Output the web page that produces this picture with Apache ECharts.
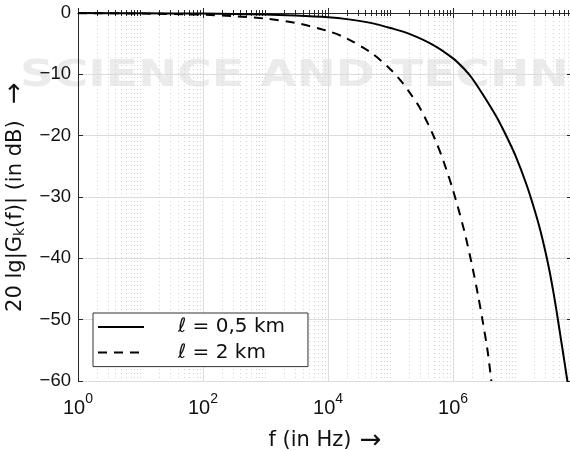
<!DOCTYPE html>
<html><head><meta charset="utf-8">
<script src="https://cdn.jsdelivr.net/npm/echarts@6/dist/echarts.min.js"></script>
<style>html,body{margin:0;padding:0;background:#fff}#c{width:570px;height:451px}</style>
</head><body><div id="c"></div>
<script>
// ---- data ----
const seriesNames = ['ℓ = 0,5 km', 'ℓ = 2 km'];
const freqShort = [1, 10, 100, 1000, 3000, 1e4, 2e4, 5e4, 1e5, 2e5, 5e5, 1e6, 1.5e6, 2e6, 3e6, 5e6, 7e6, 1e7, 1.5e7, 2e7, 2.5e7, 3e7, 3.5e7, 4e7, 4.5e7, 5e7, 5.5e7, 6e7, 6.5e7, 7e7];
const dbShort   = [-0.02, -0.04, -0.1, -0.25, -0.42, -0.7, -1.0, -1.65, -2.45, -3.4, -5.3, -7.4, -9.1, -10.6, -13.3, -17.0, -19.9, -23.3, -28.0, -32.0, -35.5, -38.9, -42.1, -45.3, -48.4, -51.4, -54.1, -56.6, -58.9, -61.0];
const freqLong  = [1, 10, 100, 300, 1000, 3000, 1e4, 2e4, 5e4, 1e5, 1.5e5, 2e5, 3e5, 5e5, 7e5, 1e6, 1.5e6, 2e6, 2.5e6, 3e6, 3.5e6, 3.8e6, 4.1e6];
const dbLong    = [-0.03, -0.09, -0.28, -0.5, -0.92, -1.6, -2.95, -4.15, -6.55, -9.2, -11.2, -12.9, -15.6, -20.3, -24.1, -28.9, -35.4, -41.0, -45.9, -50.4, -54.5, -57.2, -60.0];
const xMajorTicks = [1, 100, 1e4, 1e6];
const yTicks = [-60, -50, -40, -30, -20, -10, 0];
const xName = 'f (in Hz)';
const yName = ['20 lg|G', 'k', '(f)| (in dB)'];
const arrow = '→';

// minor tick positions of a log axis (grid decoration)
const xMinorTicks = [];
for (let e = 0; e <= 7; e++) {
  for (let m = 1; m <= 9; m++) {
    const v = m * Math.pow(10, e);
    if (v > 8e7) break;
    if (m === 1 && e % 2 === 0) continue;
    xMinorTicks.push(v);
  }
}

const FONT = 'Liberation Sans';
const NFONT = 'DejaVu Sans';
const AX = '#262626';
const TXT = '#111';
const chart = echarts.init(document.getElementById('c'), null, {renderer: 'canvas'});

function logAxis(pos, ticks, major) {
  return {
    type: 'log', logBase: 10, min: 1, max: 8e7, position: pos,
    gridIndex: 0,
    axisLine: {show: major, lineStyle: {color: AX, width: 1}},
    axisTick: {show: true, inside: true, length: major ? 5 : 3, customValues: ticks,
               lineStyle: {color: AX, width: 1}},
    axisLabel: {show: false},
    splitLine: {show: false}
  };
}

const xAxes = [
  Object.assign(logAxis('bottom', xMajorTicks, true), {
    name: '{t|' + xName + '}{r| ' + arrow + '}', nameLocation: 'middle', nameGap: 47,
    nameTextStyle: {
      rich: {
        t: {fontFamily: NFONT, fontSize: 21, color: TXT, lineHeight: 26, verticalAlign: 'middle'},
        r: {fontFamily: NFONT, fontSize: 26, color: TXT, lineHeight: 26, verticalAlign: 'middle'}
      }
    },
    axisLabel: {
      show: true, customValues: xMajorTicks, margin: 11,
      formatter: v => '{b|10}{s|' + Math.round(Math.log10(v)) + '}',
      rich: {
        b: {fontFamily: FONT, fontSize: 20, color: TXT, lineHeight: 26, verticalAlign: 'bottom'},
        s: {fontFamily: FONT, fontSize: 14, color: TXT, lineHeight: 8, verticalAlign: 'top'}
      }
    },
    splitLine: {show: true, lineStyle: {color: '#dcdcdc', width: 1}}
  }),
  Object.assign(logAxis('bottom', xMinorTicks, false), {
    splitLine: {show: true, lineStyle: {color: '#d2d2d2', width: 1, type: [1, 3]}}
  }),
  logAxis('top', xMajorTicks, true),
  logAxis('top', xMinorTicks, false)
];

const option = {
  animation: false,
  backgroundColor: '#fff',
  grid: {left: 78, right: -2, top: 13, bottom: 70, containLabel: false, outerBoundsMode: 'none'},
  graphic: [{
    type: 'text', left: 20, top: 58, z: -10, silent: true, scaleX: 1.27,
    style: {text: 'SCIENCE AND TECHNOLOGY', fill: '#ebebeb',
            font: 'bold 37px "DejaVu Sans"'}
  }],
  xAxis: xAxes,
  yAxis: [
    {
      type: 'value', min: yTicks[0], max: yTicks[yTicks.length - 1], interval: 10, position: 'left',
      axisLine: {show: true, lineStyle: {color: AX, width: 1}},
      axisTick: {show: true, inside: true, length: 5, lineStyle: {color: AX}},
      axisLabel: {margin: 7, fontFamily: FONT, fontSize: 18.5, color: TXT,
                  formatter: v => String(v).replace('-', '\u2212')},
      splitLine: {show: true, lineStyle: {color: '#dcdcdc', width: 1}},
      name: '{a|' + yName[0] + '}{k|' + yName[1] + '}{a|' + yName[2] + '}{r|  ' + arrow + '}',
      nameLocation: 'middle', nameGap: 42, nameRotate: 90,
      nameTextStyle: {
        rich: {
          a: {fontFamily: NFONT, fontSize: 21, color: TXT, lineHeight: 24, verticalAlign: 'middle'},
          k: {fontFamily: NFONT, fontSize: 14, color: TXT, lineHeight: 14, verticalAlign: 'bottom'},
          r: {fontFamily: NFONT, fontSize: 26, color: TXT, lineHeight: 24, verticalAlign: 'middle'}
        }
      }
    },
    {
      type: 'value', min: yTicks[0], max: yTicks[yTicks.length - 1], interval: 10, position: 'right',
      axisLine: {show: false},
      axisTick: {show: true, inside: true, length: 5, lineStyle: {color: AX}},
      axisLabel: {show: false},
      splitLine: {show: false}
    }
  ],
  legend: {
    data: seriesNames,
    orient: 'vertical', left: 93, top: 313,
    backgroundColor: '#fff', borderColor: '#333', borderWidth: 1,
    padding: [4, 23, 4, 4], itemGap: 5.6, itemWidth: 46, itemHeight: 14,
    itemStyle: {opacity: 0},
    textStyle: {fontFamily: NFONT, fontSize: 20, lineHeight: 20, color: TXT, padding: [0, 0, 0, 29]}
  },
  series: [
    {
      name: seriesNames[0], type: 'line', xAxisIndex: 0, yAxisIndex: 0,
      data: freqShort.map((f, i) => [f, dbShort[i]]),
      showSymbol: false, symbol: 'none', smooth: 0.3, clip: true,
      itemStyle: {color: '#000'},
      lineStyle: {color: '#000', width: 2, type: 'solid'}, z: 5
    },
    {
      name: seriesNames[1], type: 'line', xAxisIndex: 0, yAxisIndex: 0,
      data: freqLong.map((f, i) => [f, dbLong[i]]),
      showSymbol: false, symbol: 'none', smooth: 0.3, clip: true,
      itemStyle: {color: '#000'},
      lineStyle: {color: '#000', width: 2, type: [9, 7]}, z: 5
    }
  ]
};
chart.setOption(option);
</script>
</body></html>
